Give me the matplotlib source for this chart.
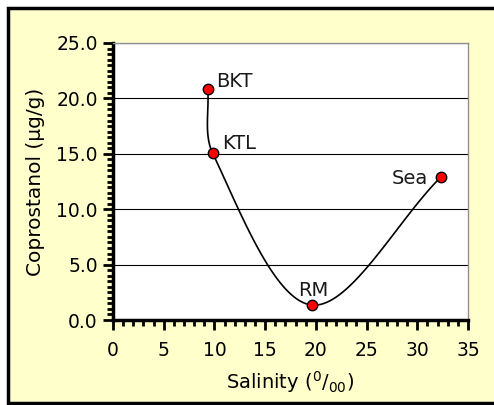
import numpy as np
import matplotlib
matplotlib.use("Agg")
import matplotlib.pyplot as plt
from matplotlib.patches import Rectangle
from matplotlib.ticker import MultipleLocator, FormatStrFormatter

# data
sites = ["BKT", "KTL", "RM", "Sea"]
salinity = [9.34, 9.83, 19.6, 32.3]
coprostanol = [20.85, 15.04, 1.35, 12.88]

plt.rcParams['font.family'] = ['DejaVu Sans']
plt.rcParams['mathtext.default'] = 'regular'

fig = plt.figure(figsize=(4.94, 4.05), dpi=100)
fig.patch.set_facecolor('white')
# yellow chart area with black frame
frame = Rectangle((8/494, 2/405), 490/494, 395/405, transform=fig.transFigure,
                  facecolor='#FFFFCC', edgecolor='black', linewidth=2.5, zorder=-10)
fig.add_artist(frame)

ax = fig.add_axes([113/494, 1 - 320/405, 355/494, 277/405])
ax.set_zorder(5)
ax.set_facecolor('white')
ax.set_xlim(0, 35)
ax.set_ylim(0, 25)

ax.yaxis.set_major_locator(MultipleLocator(5))
ax.yaxis.set_minor_locator(MultipleLocator(0.5))
ax.xaxis.set_major_locator(MultipleLocator(5))
ax.xaxis.set_minor_locator(MultipleLocator(1))
ax.yaxis.set_major_formatter(FormatStrFormatter('%.1f'))
ax.grid(axis='y', which='major', color='black', linewidth=0.8)
ax.tick_params(which='major', direction='out', length=7, width=2, labelsize=13.5)
ax.tick_params(which='minor', direction='out', length=4, width=2)
ax.tick_params(axis='x', which='major', pad=8)
ax.tick_params(axis='y', which='major', pad=4)

for s in ['top', 'right']:
    ax.spines[s].set_color('#909090')
    ax.spines[s].set_linewidth(1)
for s in ['left', 'bottom']:
    ax.spines[s].set_linewidth(2.5)

# Excel-style smoothed line (Bezier through the points, computed in display space)
pts = ax.transData.transform(np.column_stack([salinity, coprostanol]))
n = len(pts)
d = np.r_[0, np.hypot(*np.diff(pts, axis=0).T), 0]
curve = []
t = np.linspace(0, 1, 40)[:, None]
for i in range(n - 1):
    p0 = pts[max(i - 1, 0)]
    p1 = pts[i]
    p2 = pts[i + 1]
    p3 = pts[min(i + 2, n - 1)]
    c1 = p1 + (p2 - p0) * d[i + 1] / (d[i] + d[i + 1]) / 3
    c2 = p2 - (p3 - p1) * d[i + 1] / (d[i + 1] + d[i + 2]) / 3
    seg = (1 - t) ** 3 * p1 + 3 * (1 - t) ** 2 * t * c1 + 3 * (1 - t) * t ** 2 * c2 + t ** 3 * p2
    curve.append(seg)
curve = ax.transData.inverted().transform(np.vstack(curve))
ax.plot(curve[:, 0], curve[:, 1], color='black', linewidth=1.2, zorder=3)
ax.plot(salinity, coprostanol, linestyle='none', marker='o', markersize=7.5,
        markerfacecolor='red', markeredgecolor='black', markeredgewidth=1, zorder=4)

offsets = {"BKT": (8, 2, 'left'), "KTL": (9, 4, 'left'),
           "RM": (1, 9, 'center'), "Sea": (-13, -7, 'right')}
for name, x, y in zip(sites, salinity, coprostanol):
    dx, dy, ha = offsets[name]
    ax.annotate(name, (x, y), xytext=(dx, dy), textcoords='offset pixels',
                ha=ha, va='baseline', fontsize=14, color='#1a1a1a')

ax.set_xlabel(r'Salinity ($^{0}/_{00}$)', fontsize=14, labelpad=7)
ax.set_ylabel('Coprostanol (µg/g)', fontsize=14.5, labelpad=8)

fig.savefig('out.png', dpi=100)
